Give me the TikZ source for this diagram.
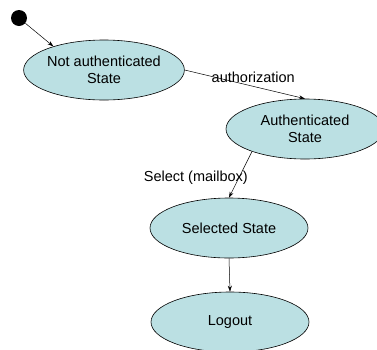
\documentclass[tikz,border=0pt]{standalone}
\usepackage{fontspec}
\setmainfont{Liberation Sans}
\usetikzlibrary{shapes.geometric,arrows.meta}
\definecolor{statefill}{RGB}{187,224,227}

\begin{document}
\begin{tikzpicture}[x=1pt,y=-1pt,
    every node/.style={font=\fontsize{14.5}{17}\selectfont},
    state/.style={ellipse,draw,line width=0.6pt,fill=statefill,inner sep=0pt,
        minimum width=158pt,minimum height=60pt,align=center},
    trans/.style={-{Stealth[length=6pt,width=4pt]},line width=0.5pt}]
    \useasboundingbox (0,0) rectangle (377,349);
    \clip (0,0) rectangle (377,349);
    % states
    \node[circle,fill=black,inner sep=0pt,minimum size=16pt] (start) at (19,18) {};
    \node[state] (notauth) at (104,70) {Not authenticated\\State};
    \node[state] (auth) at (305,129) {Authenticated\\State};
    \node[state] (selected) at (229,228) {Selected State};
    \node[state] (logout) at (230,322) {Logout};
    % transitions
    \draw[trans] (start) -- (notauth.155);
    \draw[trans] (notauth.east) -- node[pos=0.57,above=0pt] {authorization} (auth.north);
    \draw[trans] (auth.203) -- node[pos=0.57,xshift=-43pt] {Select (mailbox)} (selected.north);
    \draw[trans] (selected.south) -- (logout.north);
\end{tikzpicture}
\end{document}
